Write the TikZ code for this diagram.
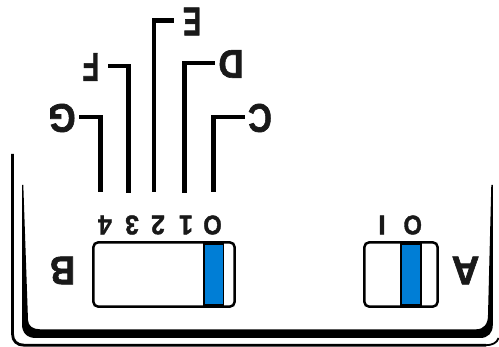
\documentclass[tikz,border=0pt]{standalone}
\usepackage{fontspec}
\setmainfont{Liberation Sans}
\newfontfamily\heavy[FakeBold=1.6]{Liberation Sans Bold}
\definecolor{swblue}{HTML}{007ED6}
\tikzset{
  lbl/.style={rotate=180,font=\heavy\fontsize{40}{40}\selectfont,inner sep=0pt,text=black!90},
  dig/.style={rotate=180,font=\heavy\fontsize{27}{27}\selectfont,inner sep=0pt,text=black!90},
  leader/.style={line width=4.6pt,line join=miter},
  switchbody/.style={draw=black,line width=2.5pt,fill=white,rounded corners=5pt},
}
\begin{document}
\begin{tikzpicture}[x=1pt,y=-1pt]
\useasboundingbox (0,0) rectangle (499,347);
% outer thin frame
\draw[line width=2.8pt] (12.5,154) -- (12.5,334) .. controls (12.5,341) and (17,345.2) .. (24,345.2) -- (486,345.2);
\draw[line width=1.8pt] (486,345.2) .. controls (492,345.2) and (497,343) .. (498.6,338);
% inner tapered tray
\fill[black] (22,185) -- (22,324) .. controls (22,333) and (27,338) .. (36,338)
  -- (480,338) .. controls (488,338) and (492.8,333) .. (492.8,325) -- (492.8,185)
  -- (491.3,185) -- (488,315) .. controls (488,324) and (484,329.3) .. (476,329.3)
  -- (40,329.3) .. controls (33,329.3) and (28,326) .. (28,320) -- (23.3,185) -- cycle;
% switches
\draw[switchbody] (93.3,242.3) rectangle (234.7,306.7);
\draw[switchbody] (364.3,242.3) rectangle (437.7,306.7);
\fill[black] (202.8,241) rectangle (224.2,308);
\fill[swblue] (204.5,245) rectangle (222.8,304);
\fill[black] (400,241) rectangle (422,308);
\fill[swblue] (401.7,245) rectangle (420.3,304);
% labels
\node[lbl,xscale=.88] (G) at (62,118) {G};
\node[lbl,xscale=.68] (F) at (91,67) {F};
\node[lbl,xscale=.68] (E) at (192,21.5) {E};
\node[lbl,xscale=.87] (D) at (231,64) {D};
\node[lbl,xscale=.82] (C) at (260,118) {C};
\node[lbl,xscale=.87] (B) at (62.5,270.5) {B};
\node[lbl,xscale=.96] (A) at (465.5,270.5) {A};
\node[dig,xscale=.92] (d4) at (105,225) {4};
\node[dig,xscale=.92] (d3) at (132,225) {3};
\node[dig,xscale=.92] (d2) at (158,225) {2};
\node[dig,xscale=.92] (d1) at (186,225) {1};
\node[dig,xscale=.88] (d0) at (212.5,225) {O};
\node[dig] (e1) at (382,225) {I};
\node[dig,xscale=.88] (e0) at (412.7,225) {O};
% leaders
\coordinate (g0) at (100.3,192); \coordinate (g1) at (79,117);
\coordinate (f0) at (128.3,193); \coordinate (f1) at (108,66);
\coordinate (e2) at (154,192); \coordinate (e3) at (174,20.5);
\coordinate (h0) at (184.3,193); \coordinate (h1) at (215,63);
\coordinate (c0) at (213.3,192); \coordinate (c1) at (245,117);
\draw[leader] (g0) |- (g1);
\draw[leader] (f0) |- (f1);
\draw[leader] (e2) |- (e3);
\draw[leader] (h0) |- (h1);
\draw[leader] (c0) |- (c1);
\end{tikzpicture}
\end{document}
